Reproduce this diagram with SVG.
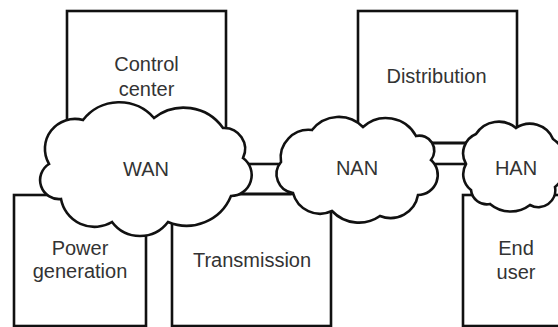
<svg xmlns="http://www.w3.org/2000/svg" width="558" height="327" viewBox="0 0 558 327">
<style>
.box{fill:#fff;stroke:#111;stroke-width:2.6}
.cloud{fill:#fff;stroke:#111;stroke-width:2.6;stroke-linejoin:miter}
.pipe{fill:none;stroke:#111;stroke-width:2.6}
text{font-family:"Liberation Sans",Arial,sans-serif;font-size:20px;fill:#333;text-anchor:middle}
</style>
<rect width="558" height="327" fill="#fff"/>
<g id="control-center">
<rect class="box" x="67" y="11" width="159" height="150"/>
<text x="146.5" y="71">Control</text>
<text x="146.5" y="96">center</text>
</g>
<g id="distribution">
<rect class="box" x="358" y="11" width="159" height="132"/>
<text x="436.5" y="83">Distribution</text>
</g>
<g id="power-generation">
<rect class="box" x="14" y="195" width="132" height="131"/>
<text x="80" y="255">Power</text>
<text x="80" y="278">generation</text>
</g>
<g id="transmission">
<rect class="box" x="172" y="194" width="159" height="132"/>
<text x="252" y="267">Transmission</text>
</g>
<g id="end-user">
<rect class="box" x="463" y="195" width="110" height="131"/>
<text x="516" y="255">End</text>
<text x="516" y="279">user</text>
</g>
<g id="connectors">
<rect class="pipe" x="235" y="164" width="55" height="30"/>
<rect class="pipe" x="425" y="143" width="48" height="21"/>
</g>
<g id="wan">
<path class="cloud" d="M83 120 A46 46 0 0 1 154 118 A48 48 0 0 1 223 128 A21 21 0 0 1 243 158 A21 21 0 0 1 231 196 A48 48 0 0 1 168 222 A35 35 0 0 1 112 222 A34 34 0 0 1 61 199 A19 19 0 0 1 49 164 A30 30 0 0 1 83 120 Z"/>
<text x="146" y="176">WAN</text>
</g>
<g id="nan">
<path class="cloud" d="M312 130 A34 34 0 0 1 363 127 A34 34 0 0 1 416 136 A15 15 0 0 1 431 160 A20 20 0 0 1 418 195 A28 28 0 0 1 380 216 A37 37 0 0 1 332 211 A28 28 0 0 1 293 193 A19 19 0 0 1 281 162 A28 28 0 0 1 312 130 Z"/>
<text x="357" y="175">NAN</text>
</g>
<g id="han">
<path class="cloud" d="M476 134 A27 27 0 0 1 516 128 A25 25 0 0 1 553 139 A30 30 0 0 1 555 187 A17 17 0 0 1 530 205 A32 32 0 0 1 490 204 A16 16 0 0 1 471 190 A20 20 0 0 1 466 164 A21 21 0 0 1 476 134 Z"/>
<text x="516" y="175">HAN</text>
</g>
</svg>
